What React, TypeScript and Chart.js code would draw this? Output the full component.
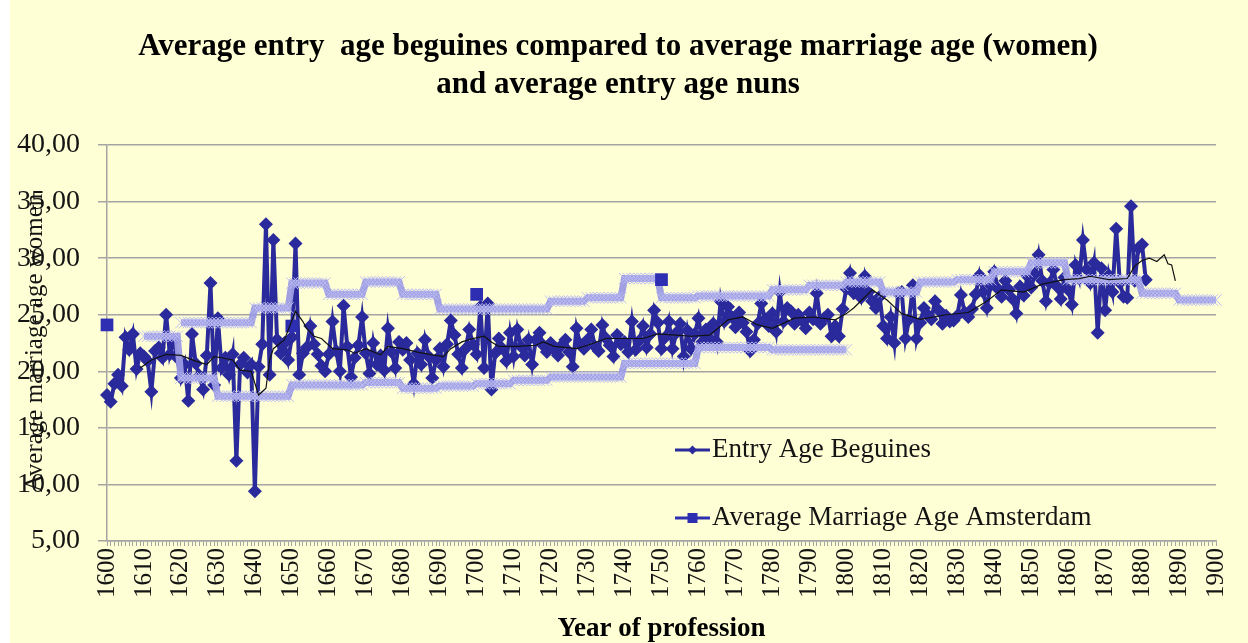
import React, { useEffect, useRef } from 'react';
import { Chart, registerables } from 'chart.js';

Chart.register(...registerables);

// ---------- data ----------
const FIRST_YEAR = 1600;
const LAST_YEAR = 1900;

// Entry age of beguines, one value per year starting at 1600
const beguineStartYear = 1600;
const beguineEntryAge = [
  17.9, 17.3, 18.9, 19.7, 18.7, 23.0, 21.9, 23.3, 20.2, 21.6,
  21.3, 20.9, 18.2, 21.8, 22.1, 21.2, 25.0, 21.5, 22.7, 21.2,
  19.4, 20.6, 17.4, 23.3, 20.7, 19.6, 18.4, 21.4, 27.8, 18.8,
  24.7, 20.3, 21.2, 19.7, 21.5, 12.1, 20.6, 21.2, 19.9, 20.6,
  9.4, 20.4, 22.4, 33.0, 19.7, 31.6, 22.8, 21.6, 22.5, 21.0,
  23.0, 31.3, 19.7, 21.6, 22.1, 24.0, 22.4, 21.5, 20.5, 20.0,
  21.5, 24.4, 21.8, 20.0, 25.8, 22.2, 19.5, 21.2, 22.3, 24.8,
  21.6, 19.8, 22.5, 20.6, 21.4, 20.1, 23.8, 21.7, 20.3, 22.6,
  21.9, 22.5, 21.0, 18.9, 21.6, 20.6, 22.8, 21.3, 19.4, 21.0,
  22.0, 20.4, 22.4, 24.5, 23.2, 21.5, 20.3, 22.0, 23.7, 22.4,
  21.5, 25.7, 20.3, 26.0, 18.4, 21.6, 22.9, 22.0, 20.9, 23.4,
  21.3, 23.7, 22.2, 21.4, 22.8, 20.6, 22.8, 23.4, 22.3, 21.7,
  22.5, 21.9, 21.4, 22.3, 22.8, 21.7, 20.4, 23.8, 22.4, 22.0,
  22.8, 23.7, 22.2, 21.8, 24.1, 22.9, 22.3, 21.3, 23.2, 22.4,
  22.6, 21.7, 24.4, 21.9, 22.7, 24.0, 22.1, 23.3, 25.4, 24.3,
  22.0, 23.0, 24.4, 22.0, 23.4, 24.2, 21.3, 23.6, 22.0, 23.3,
  24.7, 22.6, 23.7, 22.9, 24.2, 22.6, 26.2, 24.4, 25.7, 24.8,
  23.9, 25.2, 24.3, 23.5, 21.8, 22.8, 24.2, 26.0, 24.6, 24.0,
  25.1, 23.5, 27.0, 24.4, 25.6, 25.3, 24.2, 25.0, 24.5, 23.8,
  25.2, 24.6, 26.9, 24.2, 24.7, 25.0, 23.1, 24.0, 23.1, 25.5,
  27.3, 28.7, 26.9, 27.6, 26.5, 28.4, 27.0, 26.2, 25.6, 26.6,
  24.0, 22.9, 24.8, 22.5, 26.9, 27.0, 22.9, 24.6, 27.6, 22.9,
  24.3, 25.6, 25.0, 24.6, 26.2, 25.4, 24.2, 24.9, 24.4, 24.5,
  24.9, 26.75, 25.2, 24.8, 25.5, 26.8, 28.5, 27.0, 25.6, 27.6,
  28.8, 27.3, 26.6, 28.0, 27.2, 26.4, 25.1, 27.5, 26.7, 28.4,
  27.4, 28.6, 30.3, 28.0, 26.2, 27.8, 29.0, 27.5, 26.4, 28.3,
  27.2, 25.9, 29.4, 28.2, 31.6, 29.0, 27.8, 29.6, 23.4, 29.1,
  25.4, 28.5, 27.0, 32.6, 27.8, 26.6, 26.5, 34.6, 28.0, 30.9,
  31.2, 28.1,
];

// Average marriage age Amsterdam (isolated points)
const amsterdamYears = [1600, 1650, 1700, 1750];
const amsterdamMarriageAge = [24.1, 24.0, 26.8, 28.1];

// Average entry age nuns: constant per period (lower and upper series)
const nunsLowFrom = [1610, 1620, 1630, 1650, 1670, 1680, 1690, 1700, 1710, 1720, 1740, 1760, 1780];
const nunsLowTo = [1619, 1629, 1649, 1669, 1679, 1689, 1699, 1709, 1719, 1739, 1759, 1779, 1800];
const nunsLowAge = [23.1, 19.4, 17.8, 18.8, 19.0, 18.5, 18.7, 18.9, 19.2, 19.5, 20.7, 22.1, 21.9];

const nunsHighFrom = [1620, 1640, 1650, 1660, 1670, 1680, 1690, 1720, 1730, 1740, 1750, 1760, 1780, 1790, 1800, 1810, 1820, 1830, 1840, 1850, 1860, 1880, 1890];
const nunsHighTo = [1639, 1649, 1659, 1669, 1679, 1689, 1719, 1729, 1739, 1749, 1759, 1779, 1789, 1799, 1809, 1819, 1829, 1839, 1849, 1859, 1879, 1889, 1900];
const nunsHighAge = [24.3, 25.6, 27.8, 26.8, 27.9, 26.8, 25.5, 26.2, 26.5, 28.2, 26.5, 26.65, 27.2, 27.6, 27.9, 27.0, 27.9, 28.1, 28.8, 29.6, 28.1, 26.9, 26.3];

// Moving-average trend line of beguine entry age
const trendYears = [
  1609, 1612, 1616, 1620, 1624, 1627, 1629, 1631, 1634, 1636,
  1639, 1641, 1643, 1644, 1645, 1648, 1651, 1653, 1654, 1656,
  1658, 1661, 1665, 1667, 1670, 1674, 1676, 1680, 1684, 1688,
  1691, 1693, 1696, 1699, 1702, 1704, 1706, 1711, 1716, 1718,
  1721, 1727, 1730, 1735, 1740, 1745, 1749, 1754, 1758, 1763,
  1766, 1768, 1772, 1776, 1780, 1786, 1791, 1797, 1800, 1802,
  1807, 1811, 1813, 1815, 1820, 1827, 1833, 1838, 1842, 1848,
  1853, 1859, 1863, 1866, 1871, 1876, 1878, 1880, 1882, 1884,
  1886, 1887, 1888, 1889,
];
const trendValues = [
  20.3, 21.0, 21.5, 21.4, 20.9, 20.6, 21.3, 21.2, 21.0, 20.1,
  20.0, 17.9, 18.5, 21.0, 22.0, 22.8, 25.3, 24.4, 23.8, 23.1,
  22.9, 22.0, 21.9, 21.6, 22.0, 21.45, 22.2, 22.0, 21.7, 21.45,
  21.3, 22.0, 22.6, 22.9, 23.1, 22.6, 22.2, 22.2, 22.3, 22.6,
  22.2, 22.0, 22.3, 22.9, 22.9, 22.9, 23.3, 23.2, 23.1, 23.2,
  24.0, 24.55, 24.8, 24.1, 23.8, 24.7, 24.8, 24.55, 25.1, 25.6,
  27.2, 26.3, 25.7, 25.1, 24.6, 25.0, 25.2, 26.2, 27.2, 27.0,
  27.7, 28.1, 28.2, 28.4, 28.1, 28.2, 29.3, 29.8, 30.0, 29.7,
  30.3, 29.5, 29.4, 28.0,
];

const TITLE_LINES = [
  'Average entry  age beguines compared to average marriage age (women)',
  'and average entry age nuns',
];
const X_TITLE = 'Year of profession';
const Y_TITLE = 'Average marriage age women';
const SERIES_NAMES = ['Entry Age Beguines', 'Average Marriage Age Amsterdam'];

// ---------- style ----------
const FONT = "'Liberation Serif', 'Times New Roman', serif";
const BG = '#FFFFD5';
const GRID = '#A4A4A4';
const BEGUINE_COLOR = '#2A2A9C';
const AMSTERDAM_COLOR = '#2E2EB2';
const NUNS_LINE = 'rgba(155,155,228,0.95)';
const NUNS_MARK = '#BDBDF2';
const TEXT = '#141414';

const overlayPlugin = {
  id: 'overlayText',
  afterDraw(chart: any, _args: any, opts: any) {
    const ctx = chart.ctx;
    const ca = chart.chartArea;
    // y-axis title (overlapping tick labels as in reference)
    ctx.save();
    ctx.translate(ca.left - 72, (ca.top + ca.bottom) / 2);
    ctx.rotate(-Math.PI / 2);
    ctx.font = `25px ${FONT}`;
    ctx.fillStyle = TEXT;
    ctx.textAlign = 'center';
    ctx.textBaseline = 'middle';
    ctx.fillText(Y_TITLE, 0, 0);
    ctx.restore();

    // custom legend
    const items = opts.items as any[];
    items.forEach((it) => {
      const y = it.y;
      const x0 = opts.x;
      const x1 = opts.x + opts.lineLength;
      ctx.save();
      ctx.strokeStyle = it.color;
      ctx.lineWidth = 3;
      ctx.beginPath();
      ctx.moveTo(x0, y);
      ctx.lineTo(x1, y);
      ctx.stroke();
      ctx.fillStyle = it.color;
      const cx = (x0 + x1) / 2;
      if (it.marker === 'diamond') {
        ctx.beginPath();
        ctx.moveTo(cx, y - 4.5);
        ctx.lineTo(cx + 4.5, y);
        ctx.lineTo(cx, y + 4.5);
        ctx.lineTo(cx - 4.5, y);
        ctx.closePath();
        ctx.fill();
      } else {
        ctx.fillRect(cx - 5, y - 5, 10, 10);
      }
      ctx.font = `27px ${FONT}`;
      ctx.fillStyle = TEXT;
      ctx.textAlign = 'left';
      ctx.textBaseline = 'middle';
      ctx.fillText(it.label, x1 + 2, y);
      ctx.restore();
    });
  },
};

export default function App() {
  const canvasRef = useRef<HTMLCanvasElement | null>(null);

  useEffect(() => {
    const labels: string[] = [];
    for (let y = FIRST_YEAR; y <= LAST_YEAR; y++) labels.push(String(y));

    const beguineData = labels.map((l) => {
      const i = Number(l) - beguineStartYear;
      return i >= 0 && i < beguineEntryAge.length ? beguineEntryAge[i] : null;
    });
    const amsterdamData = labels.map((l) => {
      const k = amsterdamYears.indexOf(Number(l));
      return k >= 0 ? amsterdamMarriageAge[k] : null;
    });
    const periodData = (from: number[], to: number[], vals: number[]) =>
      labels.map((l) => {
        const yr = Number(l);
        const k = from.findIndex((f, j) => yr >= f && yr <= to[j]);
        return k >= 0 ? vals[k] : null;
      });
    const trendData = labels.map((l) => {
      const k = trendYears.indexOf(Number(l));
      return k >= 0 ? trendValues[k] : null;
    });

    const chart = new Chart(canvasRef.current as HTMLCanvasElement, {
      type: 'line',
      data: {
        labels,
        datasets: [
          {
            label: 'Moving average',
            data: trendData,
            borderColor: '#111111',
            borderWidth: 1.2,
            pointRadius: 0,
            spanGaps: true,
            order: 0,
          },
          {
            label: SERIES_NAMES[1],
            data: amsterdamData,
            showLine: false,
            pointStyle: 'rect',
            pointRadius: 9,
            backgroundColor: AMSTERDAM_COLOR,
            borderColor: AMSTERDAM_COLOR,
            borderWidth: 0,
            order: 1,
          },
          {
            label: 'Nuns (upper)',
            data: periodData(nunsHighFrom, nunsHighTo, nunsHighAge),
            borderColor: NUNS_LINE,
            borderWidth: 7,
            pointStyle: 'crossRot',
            pointRadius: 8,
            pointBorderColor: NUNS_MARK,
            pointBorderWidth: 1,
            order: 2,
          },
          {
            label: 'Nuns (lower)',
            data: periodData(nunsLowFrom, nunsLowTo, nunsLowAge),
            borderColor: NUNS_LINE,
            borderWidth: 7,
            pointStyle: 'crossRot',
            pointRadius: 8,
            pointBorderColor: NUNS_MARK,
            pointBorderWidth: 1,
            order: 3,
          },
          {
            label: SERIES_NAMES[0],
            data: beguineData,
            borderColor: BEGUINE_COLOR,
            borderWidth: 4,
            pointStyle: 'rectRot',
            pointRadius: 7,
            pointBackgroundColor: BEGUINE_COLOR,
            pointBorderColor: BEGUINE_COLOR,
            pointBorderWidth: 0,
            order: 4,
          },
        ],
      },
      options: {
        animation: false,
        responsive: true,
        maintainAspectRatio: false,
        layout: { padding: { left: 0, right: 22, top: 0, bottom: 0 } },
        plugins: {
          legend: { display: false },
          tooltip: { enabled: false },
          title: {
            display: true,
            text: TITLE_LINES,
            color: '#000000',
            font: { family: FONT, size: 31, weight: 'bold', lineHeight: 1.22 },
            padding: { top: 28, bottom: 41.4 },
          },
          overlayText: {
            x: 665,
            lineLength: 35,
            items: [
              { label: SERIES_NAMES[0], color: BEGUINE_COLOR, marker: 'diamond', y: 450 },
              { label: SERIES_NAMES[1], color: AMSTERDAM_COLOR, marker: 'square', y: 518 },
            ],
          },
        } as any,
        scales: {
          x: {
            type: 'category',
            offset: false,
            grid: {
              display: true,
              drawOnChartArea: false,
              drawTicks: true,
              tickLength: 5,
              color: GRID,
              lineWidth: 1,
            },
            border: { display: true, color: GRID, width: 1.5 },
            ticks: {
              autoSkip: false,
              maxRotation: 90,
              minRotation: 90,
              padding: 2,
              color: TEXT,
              font: { family: FONT, size: 25 },
              callback: (_v: any, i: number) =>
                (FIRST_YEAR + i) % 10 === 0 ? String(FIRST_YEAR + i) : '',
            },
            title: {
              display: true,
              text: X_TITLE,
              color: '#000000',
              font: { family: FONT, size: 27, weight: 'bold', lineHeight: 1 },
              padding: { top: 0, bottom: 0 },
            },
            afterFit: (s: any) => {
              s.height = 102;
            },
          },
          y: {
            min: 5,
            max: 40,
            ticks: {
              stepSize: 5,
              padding: 18,
              color: TEXT,
              font: { family: FONT, size: 28 },
              callback: (v: any) => Number(v).toFixed(2).replace('.', ','),
            },
            grid: { color: GRID, lineWidth: 1.5, tickLength: 9 },
            border: { display: true, color: GRID, width: 1.5 },
            afterFit: (s: any) => {
              s.width = 97;
            },
          },
        } as any,
      },
      plugins: [overlayPlugin],
    });

    return () => chart.destroy();
  }, []);

  return (
    <div
      style={{
        position: 'fixed',
        left: 10,
        top: 0,
        width: 1238,
        height: 643,
        background: BG,
      }}
    >
      <canvas ref={canvasRef} />
    </div>
  );
}
